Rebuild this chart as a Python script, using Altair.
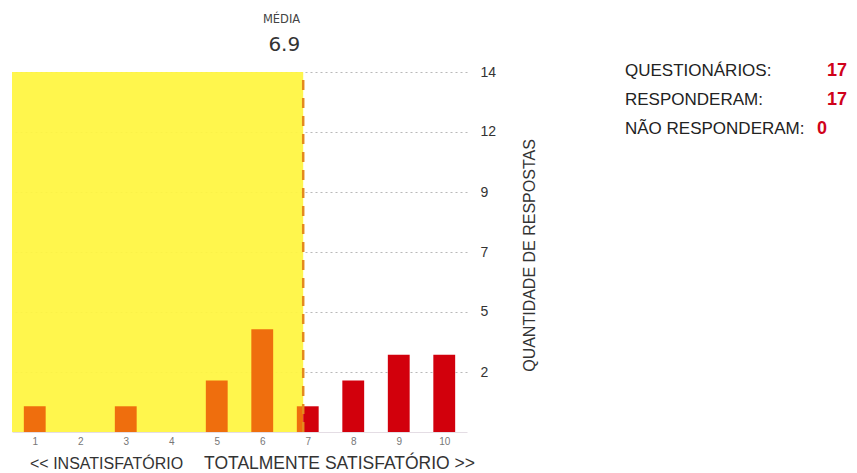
import altair as alt
import pandas as pd

# ---- data ----
categorias = [1, 2, 3, 4, 5, 6, 7, 8, 9, 10]
respostas = [1, 0, 1, 0, 2, 4, 1, 2, 3, 3]
media = 6.9
y_max = 14
y_ticks = [2.333, 4.667, 7.0, 9.333, 11.667, 14.0]
stats_labels = ["QUESTIONÁRIOS:", "RESPONDERAM:", "NÃO RESPONDERAM:"]
stats_values = ["17", "17", "0"]
rotulo_esq = "<< INSATISFATÓRIO"
rotulo_dir = "TOTALMENTE SATISFATÓRIO >>"

FONT = "Liberation Sans"
WIDEFONT = "DejaVu Sans"
HALF = 0.24
YELLOW = "#FFF53F"
ORANGE = "#EF6E0D"
RED = "#D2000C"

rows = []
for c, n in zip(categorias, respostas):
    if n == 0:
        continue
    x0, x1 = c - HALF, c + HALF
    if x0 < media:
        rows.append({"cat": c, "n": n, "x0": x0, "x1": min(x1, media), "cor": "o"})
    if x1 > media:
        rows.append({"cat": c, "n": n, "x0": max(x0, media), "x1": x1, "cor": "r"})
bars = pd.DataFrame(rows)

W, H = 455, 360

xscale = alt.Scale(domain=[0.5, 10.5], nice=False, zero=False)
yscale = alt.Scale(domain=[0, y_max], nice=False)

base_df = pd.DataFrame({"x0": [0.5], "x1": [media], "y0": [0], "y1": [y_max]})

axes = alt.Chart(base_df).mark_rect(opacity=0).encode(
    x=alt.X("x0:Q", scale=xscale, axis=alt.Axis(
        values=categorias, format="d", grid=False, ticks=False,
        domain=True, domainColor="#e4dde4", domainWidth=1,
        labelFont=FONT, labelFontSize=10, labelColor="#777777",
        labelPadding=4, title=None)),
    x2="x1:Q",
    y=alt.Y("y0:Q", scale=yscale, axis=alt.Axis(
        orient="right", values=y_ticks, format=".0f", ticks=False,
        domain=False, grid=True, gridColor="#b9b9b9", gridDash=[2, 3],
        gridWidth=1, labelFont=FONT, labelFontSize=14, labelColor="#333333",
        labelPadding=13, labelBaseline="middle",
        title="QUANTIDADE DE RESPOSTAS", titleFont=FONT, titleFontSize=16,
        titleFontWeight="normal", titleColor="#333333", titleAngle=270,
        titleX=62, titleY=H / 2 + 3, titleAlign="center", titleBaseline="middle")),
    y2="y1:Q",
)

yellow = alt.Chart(base_df).mark_rect(color=YELLOW, opacity=0.93).encode(
    x=alt.X("x0:Q", scale=xscale), x2="x1:Q",
    y=alt.Y("y0:Q", scale=yscale), y2="y1:Q",
)

bar_layer = alt.Chart(bars).mark_rect().encode(
    x=alt.X("x0:Q", scale=xscale), x2="x1:Q",
    y=alt.Y("n:Q", scale=yscale), y2=alt.datum(0),
    color=alt.Color("cor:N", scale=alt.Scale(domain=["o", "r"], range=[ORANGE, RED]), legend=None),
)

mean_df = pd.DataFrame({"m": [media], "y0": [0], "y1": [y_max], "txt": [f"{media:.1f}"]})

mean_line = alt.Chart(mean_df).mark_rule(color="#E48A1E", strokeWidth=2.5, strokeDash=[10, 8]).encode(
    x=alt.X("m:Q", scale=xscale), y=alt.Y("y0:Q", scale=yscale), y2="y1:Q",
)

media_lbl = alt.Chart(mean_df).mark_text(
    text="MÉDIA", font=WIDEFONT, fontSize=11.5, color="#444444", align="right", baseline="middle", dx=-3
).encode(x=alt.X("m:Q", scale=xscale), y=alt.value(-52))

media_val = alt.Chart(mean_df).mark_text(
    font=WIDEFONT, fontSize=20, color="#333333", align="right", baseline="middle", dx=-3
).encode(x=alt.X("m:Q", scale=xscale), y=alt.value(-27), text="txt:N")

bottom_df = pd.DataFrame({"t": [rotulo_esq]})
bottom_l = alt.Chart(bottom_df).mark_text(
    font=FONT, fontSize=16, color="#333333", align="left", baseline="middle"
).encode(x=alt.value(18), y=alt.value(392), text="t:N")
bottom_df2 = pd.DataFrame({"t": [rotulo_dir]})
bottom_r = alt.Chart(bottom_df2).mark_text(
    font=FONT, fontSize=17.5, color="#333333", align="right", baseline="middle"
).encode(x=alt.value(463), y=alt.value(392), text="t:N")

stat_layers = []
ys = [-1, 28, 57]
vx = [815, 815, 805]
for lab, val, yy, xx in zip(stats_labels, stats_values, ys, vx):
    d = pd.DataFrame({"lab": [lab], "val": [val]})
    stat_layers.append(alt.Chart(d).mark_text(
        font=FONT, fontSize=17, color="#222222", align="left", baseline="middle"
    ).encode(x=alt.value(613), y=alt.value(yy), text="lab:N"))
    stat_layers.append(alt.Chart(d).mark_text(
        font=FONT, fontSize=18, fontWeight="bold", color="#D0021B", align="left", baseline="middle"
    ).encode(x=alt.value(xx), y=alt.value(yy), text="val:N"))

chart = alt.layer(
    axes, yellow, bar_layer,
    mean_line, media_lbl, media_val, bottom_l, bottom_r, *stat_layers
).properties(
    width=W, height=H,
    autosize=alt.AutoSizeParams(type="none"),
    padding={"left": 4, "top": 64, "right": 380, "bottom": 40},
).configure_view(stroke=None)

chart.save("out.html", embed_options={"renderer": "svg", "actions": False})
